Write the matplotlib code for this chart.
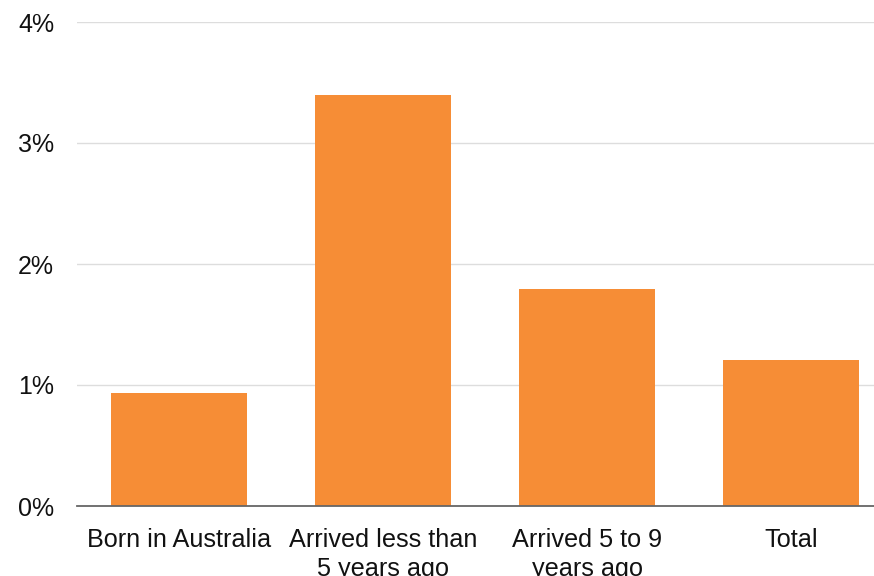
import matplotlib.pyplot as plt
from matplotlib.ticker import FuncFormatter

plt.rcParams['font.family'] = ['Liberation Sans', 'DejaVu Sans']

# share of people, by time since arrival
categories = ["Born in Australia", "Arrived less than\n5 years ago",
              "Arrived 5 to 9\nyears ago", "Total"]
values = [0.93, 3.40, 1.79, 1.21]
yticks = [0, 1, 2, 3, 4]

fig = plt.figure(figsize=(8.74, 5.76), dpi=100)
ax = fig.add_axes([77 / 874, 70 / 576, 816 / 874, 484 / 576])

x = range(len(categories))
ax.bar(x, values, width=0.667, color="#F68D36", zorder=3)

ax.set_xlim(-0.5, len(categories) - 0.5)
ax.set_ylim(0, 4)
ax.set_yticks(yticks)
ax.yaxis.set_major_formatter(FuncFormatter(lambda v, p: "%d%%" % v))
ax.set_xticks(list(x))
ax.set_xticklabels(categories, fontsize=18.2, color="#111111", va="top",
                   linespacing=1.3)
ax.tick_params(axis="y", labelsize=18, labelcolor="#111111", length=0, pad=16.5)
ax.tick_params(axis="x", length=0, pad=15.5)

ax.grid(axis="y", color="#DDDDDD", linewidth=1.0, zorder=0)
for s in ["top", "right", "left"]:
    ax.spines[s].set_visible(False)
ax.spines["bottom"].set_color("#666666")
ax.spines["bottom"].set_linewidth(1.3)
ax.spines["bottom"].set_zorder(4)

fig.savefig("out.png", dpi=100)
